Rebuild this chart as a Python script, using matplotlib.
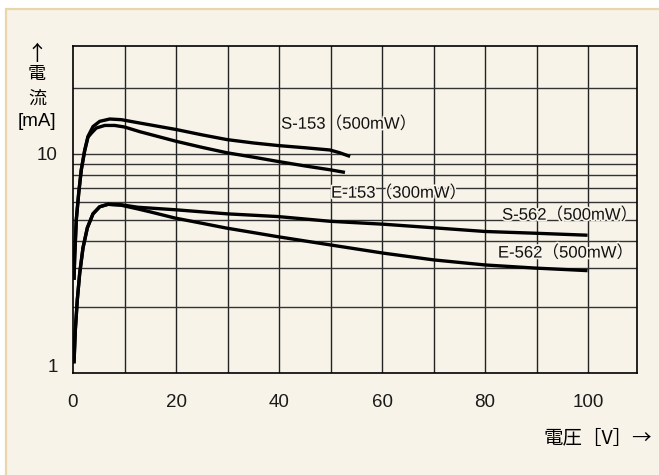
import matplotlib
matplotlib.use('Agg')
import matplotlib.pyplot as plt
import matplotlib.patheffects as pe
from matplotlib.patches import Rectangle
from matplotlib.transforms import ScaledTranslation

plt.rcParams['font.family'] = ['Liberation Sans', 'Noto Sans CJK JP']

# 曲線データ（電圧 [V], 電流 [mA]）
s153_v = [0.19, 0.33, 0.64, 1.11, 1.61, 2.27, 2.91, 3.88, 5.18, 7.13, 9.38, 13, 20, 25, 29.9, 35, 39.8, 45, 49.9, 51.8, 53.8]
s153_i = [2.66, 3.40, 5.0, 6.62, 8.45, 10.4, 12.0, 13.3, 14.05, 14.4, 14.3, 13.8, 12.9, 12.2, 11.6, 11.2, 10.9, 10.65, 10.4, 10.1, 9.72]

e153_v = [0.19, 0.33, 0.64, 1.11, 1.61, 2.27, 2.91, 3.55, 4.52, 6.16, 8.1, 10.0, 13, 20, 25, 29.9, 35, 39.8, 45, 49.9, 52.8]
e153_i = [2.66, 3.40, 5.0, 6.62, 8.45, 10.3, 11.9, 12.4, 13.1, 13.46, 13.46, 13.24, 12.6, 11.4, 10.7, 10.1, 9.65, 9.22, 8.8, 8.45, 8.22]

s562_v = [0.19, 0.45, 0.83, 1.3, 1.94, 2.78, 3.88, 5.18, 6.8, 9.4, 12.6, 20, 29.9, 39.8, 49.9, 60.3, 70.3, 80, 89.7, 99.9]
s562_i = [1.107, 1.57, 2.15, 2.85, 3.72, 4.59, 5.32, 5.73, 5.88, 5.85, 5.7, 5.55, 5.32, 5.17, 4.92, 4.77, 4.59, 4.42, 4.34, 4.25]

e562_v = [0.19, 0.45, 0.83, 1.3, 1.94, 2.78, 3.88, 5.18, 6.8, 9.4, 12.6, 15, 19.8, 25, 29.8, 35, 39.6, 49.9, 60.3, 70, 80, 89.7, 99.9]
e562_i = [1.107, 1.57, 2.15, 2.85, 3.72, 4.59, 5.32, 5.73, 5.88, 5.82, 5.6, 5.43, 5.09, 4.82, 4.58, 4.37, 4.19, 3.84, 3.52, 3.28, 3.11, 3.01, 2.93]

series = [(s153_v, s153_i), (e153_v, e153_i), (s562_v, s562_i), (e562_v, e562_i)]

labels = ['S-153（500mW）', 'E-153（300mW）', 'S-562（500mW）', 'E-562（500mW）']
label_x = [40.4, 50.1, 83.3, 82.5]
label_y = [13.7, 6.64, 5.27, 3.54]

x_ticks = [0, 20, 40, 60, 80, 100]
x_grid = [10, 20, 30, 40, 50, 60, 70, 80, 90, 100]
y_ticks = [1, 10]
y_grid = [2, 3, 4, 5, 6, 7, 8, 9, 10, 20]

cream = '#f7f3e9'
tan = '#e9d6a9'

fig = plt.figure(figsize=(6.59, 4.75), dpi=100, facecolor='white')
# 背景パネル
fig.patches.append(Rectangle((6 / 659, -0.1), 1.2, 466 / 475 + 0.1, transform=fig.transFigure,
                             facecolor=cream, edgecolor=tan, linewidth=1.6, zorder=-10))

ax = fig.add_axes([73 / 659, 1 - 373 / 475, 564 / 659, 327 / 475])
ax.set_facecolor(cream)
ax.set_yscale('log')
ax.set_xlim(0, 109.5)
ax.set_ylim(1, 31)

# グリッド
for gx in x_grid:
    ax.axvline(gx, color='#222222', linewidth=1.0, zorder=1)
for gy in y_grid:
    ax.axhline(gy, color='#333333', linewidth=1.0, zorder=1)

for v, i in series:
    ax.plot(v, i, color='black', linewidth=2.4, solid_capstyle='butt',
            solid_joinstyle='round', zorder=3)

for t, lx, ly in zip(labels, label_x, label_y):
    ax.text(lx, ly, t, fontsize=12, va='center', ha='left', color='#111111', zorder=4,
            path_effects=[pe.withStroke(linewidth=2.5, foreground=cream)])

ax.set_xticks(x_ticks)
ax.set_xticklabels([str(x) for x in x_ticks])
ax.set_yticks(y_ticks)
ax.set_yticklabels(['1', '10'])
ax.yaxis.set_minor_locator(matplotlib.ticker.NullLocator())
ax.tick_params(axis='both', length=0, labelsize=13.5, colors='#1a1a1a')
ax.tick_params(axis='x', pad=15)
ax.tick_params(axis='y', pad=11)
for s in ax.spines.values():
    s.set_color('black')
    s.set_linewidth(1.2)

# 「1」のラベルを少し上へ
lab1 = ax.get_yticklabels()[0]
lab1.set_transform(lab1.get_transform() + ScaledTranslation(0, 7 / 100, fig.dpi_scale_trans))

# 軸ラベル
fig.text(37 / 659, 1 - 54 / 475, '↑', ha='center', va='center', fontsize=15,
         family=['Noto Sans CJK JP'])
fig.text(37 / 659, 1 - 75 / 475, '電', ha='center', va='center', fontsize=13)
fig.text(37 / 659, 1 - 99 / 475, '流', ha='center', va='center', fontsize=13)
fig.text(37 / 659, 1 - 122 / 475, '[mA]', ha='center', va='center', fontsize=13.5)
fig.text(652 / 659, 1 - 438 / 475, '電圧［V］→', ha='right', va='center', fontsize=14,
         family=['Noto Sans CJK JP'])

fig.savefig('out.png', dpi=100, facecolor='white')
